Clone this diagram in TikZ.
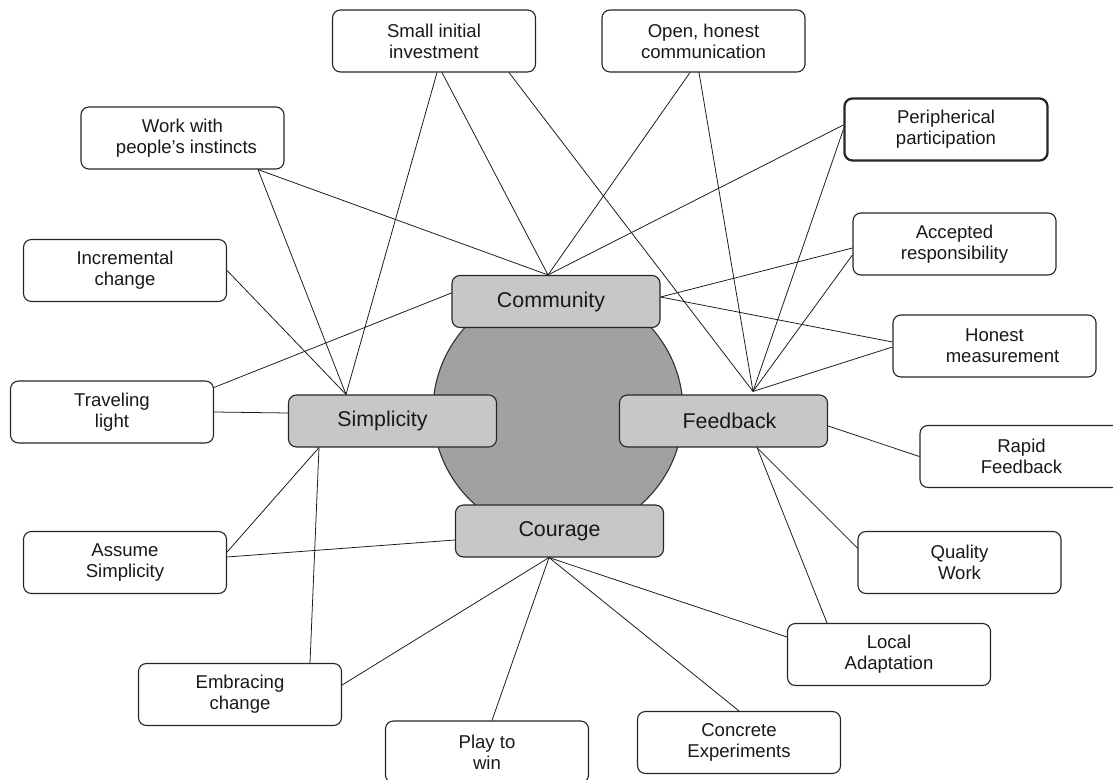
\documentclass[tikz,border=0pt]{standalone}
\usepackage{fontspec}
\setmainfont{Liberation Sans}
\usetikzlibrary{calc}

\begin{document}
\begin{tikzpicture}[x=0.025cm,y=-0.025cm,
    value/.style={draw=black!85,line width=0.8pt,rounded corners=0.2cm,fill=white,
      align=center,minimum width=5.075cm,minimum height=1.55cm,inner sep=0pt,
      font=\fontsize{13.2}{15}\selectfont,text=black!90},
    core/.style={draw=black!85,line width=0.8pt,rounded corners=0.2cm,fill=black!22,
      minimum width=5.2cm,minimum height=1.3cm,inner sep=0pt,
      font=\fontsize{15.2}{18}\selectfont,text=black!90},
    link/.style={line width=0.55pt,black!90}]
  \useasboundingbox (0,0) rectangle (1113,780);

  % the gray disc behind the four values
  \filldraw[fill=black!37,draw=black!80,line width=0.8pt] (558,411) circle (3.125cm);

  % core values
  \node[core] (community) at (556,301.5) {\hspace*{-0.25cm}Community};
  \node[core] (simplicity) at (392.5,421) {\hspace*{-0.5cm}Simplicity};
  \node[core] (feedback) at (723.5,421) {\hspace*{0.3cm}Feedback};
  \node[core] (courage) at (559.5,531) {Courage};

  % principles
  \node[value] (invest) at (434,41) {Small initial\\investment};
  \node[value] (open) at (703.5,41) {Open, honest\\communication};
  \node[value] (instinct) at (182.5,138) {Work with\\\hspace*{0.2cm}people’s instincts};
  \node[value,line width=1.6pt] (periph) at (946,129.5) {Peripherical\\participation};
  \node[value] (incr) at (125,270.5) {Incremental\\change};
  \node[value] (accept) at (954.5,244) {Accepted\\responsibility};
  \node[value] (measure) at (994.5,346) {Honest\\\hspace*{0.4cm}measurement};
  \node[value] (travel) at (112,412) {Traveling\\light};
  \node[value] (rapid) at (1021.5,456.5) {Rapid\\Feedback};
  \node[value] (assume) at (125,562.5) {Assume\\Simplicity};
  \node[value] (quality) at (959.5,562.5) {Quality\\Work};
  \node[value] (local) at (889,654.5) {Local\\Adaptation};
  \node[value] (embrace) at (240,694.5) {Embracing\\change};
  \node[value] (concrete) at (739,742.5) {Concrete\\Experiments};
  \node[value] (play) at (487,752) {Play to\\win};

  % community
  \draw[link] ($(community.north)+(-8,0)$) -- ($(instinct.south)+(75.5,0)$);
  \draw[link] ($(community.north)+(-8,0)$) -- ($(invest.south)+(8,0)$);
  \draw[link] ($(community.north)+(-8,0)$) -- ($(open.south)+(-13.5,0)$);
  \draw[link] ($(community.north)+(-8,0)$) -- ($(periph.west)+(0,-4.5)$);
  \draw[link] ($(community.east)+(0,-4.5)$) -- ($(accept.west)+(0,4)$);
  \draw[link] ($(community.east)+(0,-4.5)$) -- ($(measure.west)+(0,-4)$);
  \draw[link] ($(community.west)+(0,-8.5)$) -- ($(travel.north east)+(0,7)$);

  % simplicity
  \draw[link] ($(simplicity.north)+(-46.5,0)$) -- ($(instinct.south)+(75.5,0)$);
  \draw[link] ($(simplicity.north)+(-46.5,0)$) -- ($(invest.south)+(3,0)$);
  \draw[link] ($(simplicity.north)+(-46.5,0)$) -- (incr.east);
  \draw[link] ($(simplicity.west)+(0,-8)$) -- (travel.east);
  \draw[link] ($(simplicity.south)+(-73.5,0)$) -- ($(assume.east)+(0,-10.5)$);
  \draw[link] ($(simplicity.south)+(-73.5,0)$) -- ($(embrace.north)+(70,0)$);

  % feedback
  \draw[link] ($(feedback.north)+(29.5,-3)$) -- ($(invest.south)+(75,0)$);
  \draw[link] ($(feedback.north)+(29.5,-3)$) -- ($(open.south)+(-4.5,0)$);
  \draw[link] ($(feedback.north)+(29.5,-3)$) -- (periph.west);
  \draw[link] ($(feedback.north)+(29.5,-3)$) -- ($(accept.west)+(0,11)$);
  \draw[link] ($(feedback.north)+(29.5,-3)$) -- ($(measure.west)+(0,1)$);
  \draw[link] ($(feedback.east)+(0,5)$) -- (rapid.west);
  \draw[link] ($(feedback.south)+(33.5,0)$) -- ($(quality.west)+(0,-14.5)$);
  \draw[link] ($(feedback.south)+(33.5,0)$) -- ($(local.north)+(-62,0)$);

  % courage
  \draw[link] ($(courage.west)+(0,9)$) -- ($(assume.east)+(0,-5.5)$);
  \draw[link] ($(courage.south)+(-10.5,0)$) -- ($(embrace.east)+(0,-9.5)$);
  \draw[link] ($(courage.south)+(-10.5,0)$) -- ($(play.north)+(5,0)$);
  \draw[link] ($(courage.south)+(-10.5,0)$) -- (concrete.north);
  \draw[link] ($(courage.south)+(-10.5,0)$) -- ($(local.west)+(0,-17.5)$);
\end{tikzpicture}
\end{document}
